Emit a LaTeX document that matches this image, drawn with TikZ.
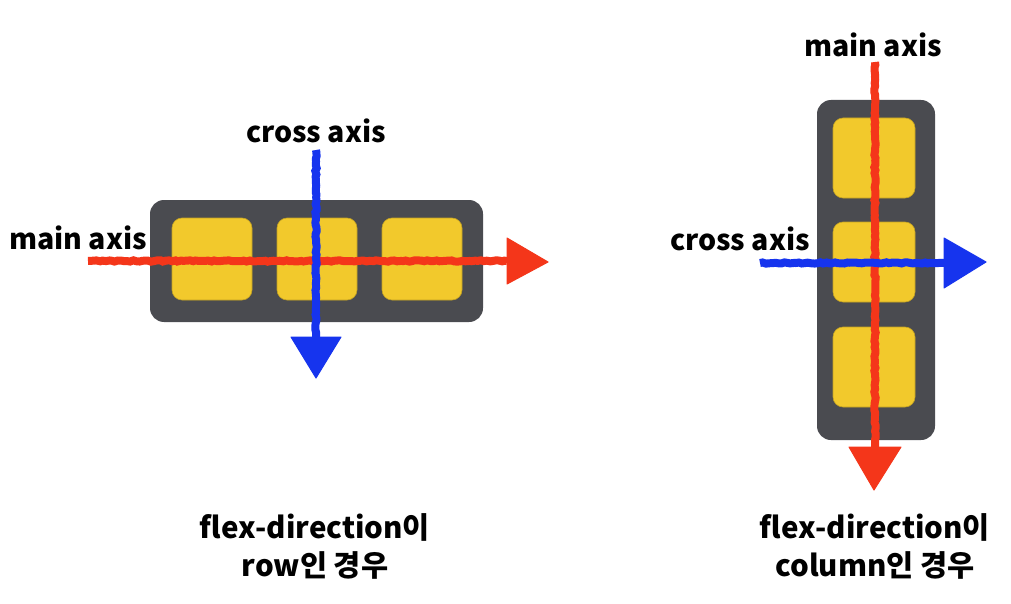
\documentclass[tikz,border=0pt]{standalone}
\usepackage{fontspec}
\setmainfont{Noto Sans CJK KR}
\usetikzlibrary{arrows.meta,decorations.pathmorphing,calc}
\definecolor{axred}{HTML}{F4361A}
\definecolor{axblue}{HTML}{1634EE}
\definecolor{boxgray}{HTML}{4A4B50}
\definecolor{itemyel}{HTML}{F2C92C}
\tikzset{
  container/.style={fill=boxgray, rounded corners=14pt, inner sep=0pt},
  item/.style={fill=itemyel, draw=itemyel!80!black, line width=0.6pt, rounded corners=10pt, minimum width=80pt, minimum height=82pt, inner sep=0pt},
  lbl/.style={font=\bfseries\fontsize{28.5}{32}\selectfont, inner sep=0pt},
  captxt/.style={font=\bfseries\fontsize{29.5}{38}\selectfont, align=center, inner sep=0pt},
  redax/.style={draw=axred, line width=8pt, decorate, decoration={random steps, segment length=3pt, amplitude=0.7pt}},
  blueax/.style={draw=axblue, line width=8pt, decorate, decoration={random steps, segment length=3pt, amplitude=0.7pt}},
  redhead/.style={fill=axred, draw=axred, line width=1pt, line join=round},
  bluehead/.style={fill=axblue, draw=axblue, line width=1pt, line join=round}
}
\begin{document}
\begin{tikzpicture}[x=1pt,y=-1pt]
\useasboundingbox[fill=white] (0,0) rectangle (1011,604);
% ---------- left: row ----------
\node[container, minimum width=333pt, minimum height=122pt] (rowbox) at (316.5,261) {};
\node[item] (r1) at (212,259) {};
\node[item] (r2) at (317,259) {};
\node[item] (r3) at (422,259) {};
\coordinate (rmS) at (88,261);
\coordinate (rmE) at (507,261);
\coordinate (rmT) at (548,262);
\coordinate (rcS) at (316,150);
\coordinate (rcE) at (316,337);
\coordinate (rcT) at (316,378);
\path[redax] (rmS) -- (rmE);
\filldraw[redhead] (rmT) -- ($(rmE)+(0,-23)$) -- ($(rmE)+(0,23)$) -- cycle;
\path[blueax] (rcS) -- (rcE);
\filldraw[bluehead] (rcT) -- ($(rcE)+(-25,0)$) -- ($(rcE)+(25,0)$) -- cycle;
\node[lbl] (rml) at (78,238) {main axis};
\node[lbl] (rcl) at (316,131) {cross axis};
\node[captxt] (rcap) at (315,546) {flex-direction이\\row인 경우};
% ---------- right: column ----------
\node[container, minimum width=118pt, minimum height=340pt] (colbox) at (876,270) {};
\node[item, minimum width=82pt, minimum height=80pt] (c1) at (874,158) {};
\node[item, minimum width=82pt, minimum height=80pt] (c2) at (874,262) {};
\node[item, minimum width=82pt, minimum height=80pt] (c3) at (874,367) {};
\coordinate (cmS) at (875,62);
\coordinate (cmE) at (875,447);
\coordinate (cmT) at (874,490);
\coordinate (ccS) at (760,263);
\coordinate (ccE) at (944,263);
\coordinate (ccT) at (986,262);
\path[redax] (cmS) -- (cmE);
\filldraw[redhead] (cmT) -- ($(cmE)+(-26,0)$) -- ($(cmE)+(26,0)$) -- cycle;
\path[blueax] (ccS) -- (ccE);
\filldraw[bluehead] (ccT) -- ($(ccE)+(0,-25)$) -- ($(ccE)+(0,25)$) -- cycle;
\node[lbl] (cml) at (873,45) {main axis};
\node[lbl] (ccl) at (740,239) {cross axis};
\node[captxt] (ccap) at (875,546) {flex-direction이\\column인 경우};
\end{tikzpicture}
\end{document}
